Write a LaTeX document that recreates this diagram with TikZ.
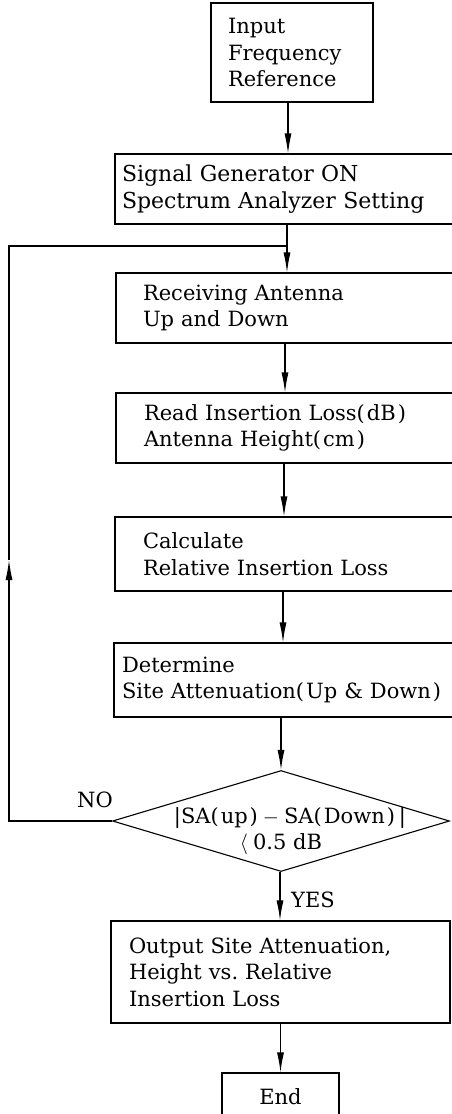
\documentclass[tikz,border=0pt]{standalone}
\usepackage{fontspec}
\setmainfont{DejaVu Serif}
\usetikzlibrary{shapes.geometric,arrows.meta}
\newcommand\chartfont{\fontsize{21}{26.5}\selectfont}
\newcommand\lp{(\kern2pt}
\newcommand\rp{\kern2pt)}
\begin{document}
\begin{tikzpicture}[x=1pt,y=-1pt,
  box/.style={draw,line width=1.1pt,inner ysep=0pt,align=left,font=\chartfont},
  arr/.style={line width=1.1pt,-{Latex[length=20pt,width=7pt]}},
  ln/.style={line width=1.1pt},
  lbl/.style={font=\chartfont,inner sep=0pt}]
\useasboundingbox (0,0) rectangle (452,1114);
\clip (0,0) rectangle (452,1114);
% boxes
\node[box,inner xsep=17pt,text width=128pt,minimum height=99pt] (input) at (292,52.5) {Input\\Frequency\\Reference};
\node[box,font=\fontsize{22}{26.5}\selectfont,inner xsep=7pt,text width=371pt,minimum height=70pt] (signal) at (307.5,189) {Signal Generator ON\\Spectrum Analyzer Setting};
\node[box,inner xsep=27pt,text width=330pt,minimum height=70pt] (recv) at (308,308) {Receiving Antenna\\Up and Down};
\node[box,inner xsep=28pt,text width=328pt,minimum height=70pt] (read) at (308,428) {Read Insertion Loss\lp dB\rp\\Antenna Height\lp cm\rp};
\node[box,inner xsep=28pt,text width=329pt,minimum height=74pt] (calc) at (307.5,554) {Calculate\\Relative Insertion Loss};
\node[box,inner xsep=8pt,text width=369pt,minimum height=74pt] (det) at (306.5,680) {Determine\\Site Attenuation\lp Up \& Down\rp};
\node[draw,line width=1.1pt,diamond,inner sep=0pt,minimum width=337pt,minimum height=101pt,
  label={[lbl,align=center,yshift=-10pt,xshift=9pt]center:{\textbar SA\lp up\rp\kern5pt$-$\kern5pt SA\lp Down\rp\kern4pt\textbar\\$\langle$\kern5pt0.5 dB\kern18pt}}] (dia) at (281,821) {};
\node[box,inner xsep=18pt,text width=303pt,minimum height=102pt] (out) at (280.5,972) {Output Site Attenuation,\\Height vs.\ Relative\\Insertion Loss};
\node[box,align=center,inner xsep=0pt,minimum width=117pt,minimum height=48pt] (end) at (280.5,1097) {End};
% labels
\node[lbl] (no) at (95,800) {NO};
\node[lbl] (yes) at (313,900) {YES};
% guide coordinates
\coordinate (k1) at (288,0);
\coordinate (k2) at (287,0);
\coordinate (k3) at (285,0);
\coordinate (k4) at (284,0);
\coordinate (k5) at (283,0);
\coordinate (k7) at (280,0);
\coordinate (lx) at (9,560);
\coordinate (jn) at (287,246);
% connectors
\draw[arr] (k1 |- input.south) -- (k1 |- signal.north);
\draw[arr] (k2 |- signal.south) -- (k2 |- recv.north);
\draw[arr] (k3 |- recv.south) -- (k3 |- read.north);
\draw[arr] (k4 |- read.south) -- (k4 |- calc.north);
\draw[arr] (k5 |- calc.south) -- (k5 |- det.north);
\draw[arr] (det.south -| dia.north) -- (dia.north);
\draw[arr] (k7 |- dia.south) -- (k7 |- out.north);
\draw[arr] (out.south) -- (end.north);
\draw[arr] (dia.west) -| (lx);
\draw[ln] (lx) |- (jn);
\end{tikzpicture}
\end{document}
